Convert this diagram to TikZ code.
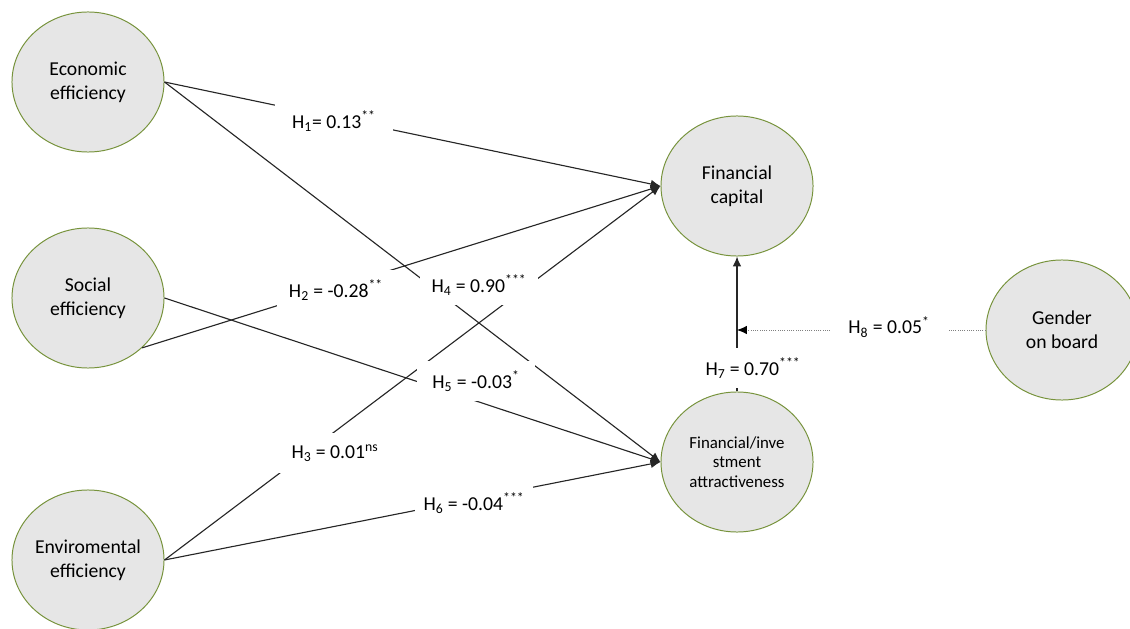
\documentclass[tikz,border=0pt]{standalone}
\newcommand\px{0.025}
\newcommand\lcol{88}
\newcommand\mcol{737}
\newcommand\rcol{1062}
\usepackage{fontspec}
\setmainfont{Carlito}
\usepackage{tikz}
\usetikzlibrary{positioning,shapes.geometric,arrows.meta}
\definecolor{rimgreen}{RGB}{119,147,60}
\definecolor{bubble}{RGB}{230,230,230}
\tikzset{construct/.style={ellipse,draw=rimgreen,fill=bubble,line width=0.7pt,minimum width=3.8cm,minimum height=3.5cm,inner sep=0pt,align=center,font=\fontsize{14}{17}\selectfont},
         coef/.style={fill=white,minimum width=2.95cm,minimum height=1cm,inner sep=0pt,font=\fontsize{14}{17}\selectfont},
         link/.style={draw=black!85,line width=0.8pt,-{Latex[length=7pt,width=6pt]}},
         modlink/.style={draw=gray,densely dotted,line width=0.6pt,-{Latex[length=7pt,width=6pt,color=black]}}}

\begin{document}
\begin{tikzpicture}[x=\px cm,y=-\px cm]
                \useasboundingbox (0,0) rectangle (1130,629);
                \node[construct] (ee) at (\lcol,82) {Economic\\efficiency};
                \node[construct] (se) at (\lcol,298) {Social\\efficiency};
                \node[construct] (ev) at (\lcol,560) {Enviromental\\efficiency};
                \node[construct] (fc) at (\mcol,186) {Financial\\capital};
                \node[construct,font=\fontsize{12}{14}\selectfont] (fi) at (\mcol,462) {Financial/inve\\stment\\attractiveness};
                \node[construct] (gb) at (\rcol,330) {Gender\\on board};
                \coordinate (join) at (fc.south |- gb.west);

                \foreach \a/\b in {ee.east/fc.west,se.south east/fc.west,ev.east/fc.west,ee.east/fi.west,se.east/fi.west,ev.east/fi.west,fi.north/fc.south}
                    \draw[link] (\a) -- (\b);
                \draw[modlink] (gb.west) -- (join);

                \node[coef] (h1) at (334,121) {H\textsubscript{1}= 0.13\textsuperscript{**}};
                \node[coef] (h2) at (336,290) {H\textsubscript{2} = -0.28\textsuperscript{**}};
                \node[coef] (h3) at (335,453) {H\textsubscript{3} = 0.01\textsuperscript{ns}};
                \node[coef] (h4) at (479,285) {H\textsubscript{4} = 0.90\textsuperscript{***}};
                \node[coef] (h5) at (476,381) {H\textsubscript{5} = -0.03\textsuperscript{*}};
                \node[coef] (h6) at (474,503) {H\textsubscript{6} = -0.04\textsuperscript{***}};
                \node[coef] (h7) at (753,368) {H\textsubscript{7} = 0.70\textsuperscript{***}};
                \node[coef] (h8) at (889,327) {H\textsubscript{8} = 0.05\textsuperscript{*}};
            \end{tikzpicture}
\end{document}
